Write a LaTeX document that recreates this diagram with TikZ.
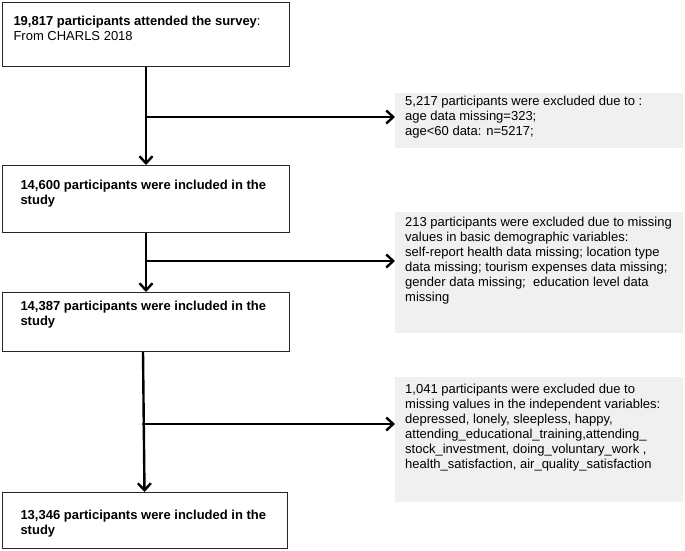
\documentclass[tikz,border=0pt]{standalone}
\usepackage{fontspec}
\setmainfont{Liberation Sans}
\usetikzlibrary{arrows.meta}
\definecolor{exclgray}{HTML}{F0F0F0}
\definecolor{boxline}{HTML}{262626}
\newcommand{\fbtext}[5]{\parbox[t][#2][t]{#1}{\vspace*{#4}\raggedright\leftskip=#3\relax #5}}
\tikzset{
  flowbox/.style={draw=boxline, line width=1pt, fill=white, inner sep=0pt, anchor=north west,
    font=\fontsize{13pt}{15pt}\selectfont},
  firstbox/.style={flowbox, font=\fontsize{13pt}{14.5pt}\selectfont},
  exclbox/.style={fill=exclgray, inner sep=0pt, anchor=north west,
    font=\fontsize{13pt}{15pt}\selectfont},
  flowarrow/.style={line width=2.4pt, -{Straight Barb[length=7pt,width=13pt]}},
  brancharrow/.style={flowarrow, line cap=round},
}
\begin{document}
\begin{tikzpicture}[x=1pt,y=-1pt]
\useasboundingbox (0,0) rectangle (685,550);
\fill[white] (0,0) rectangle (685,550);

\node[firstbox] (b1) at (2,2) {\fbtext{287pt}{64pt}{11pt}{14pt}{\textbf{19,817 participants attended the survey}:\\From CHARLS 2018}};
\node[flowbox] (b2) at (2,165) {\fbtext{287pt}{67pt}{18pt}{15pt}{\textbf{14,600 participants were included in the}\\\textbf{study}}};
\node[flowbox] (b3) at (2,292) {\fbtext{287pt}{59pt}{18pt}{9pt}{\textbf{14,387 participants were included in the}\\\textbf{study}}};
\node[flowbox] (b4) at (2,492) {\fbtext{285pt}{56pt}{18pt}{18pt}{\textbf{13,346 participants were included in the}\\\textbf{study}}};

\node[exclbox] (g1) at (395,93) {\fbtext{288pt}{55pt}{10pt}{3pt}{5,217 participants were excluded due to :\\age data missing=323;\\age<60 data: n=5217;}};
\node[exclbox] (g2) at (395,212) {\fbtext{288pt}{121pt}{10pt}{5pt}{213 participants were excluded due to missing\\values in basic demographic variables:\\self-report health data missing; location type\\data missing; tourism expenses data missing;\\gender data missing;\ \ education level data\\missing}};
\node[exclbox] (g3) at (395,377) {\fbtext{288pt}{125pt}{10pt}{7pt}{1,041 participants were excluded due to\\missing values in the independent variables:\\depressed, lonely, sleepless, happy,\\attending\_educational\_training,attending\_\\stock\_investment, doing\_voluntary\_work ,\\health\_satisfaction, air\_quality\_satisfaction}};

\coordinate (j1) at (146,117);
\coordinate (j2) at (146,261);
\coordinate (j3) at (143,424);

\draw[flowarrow] (b1.south) -- (b2.north);
\draw[flowarrow] (b2.south) -- (b3.north);
\draw[flowarrow] ([xshift=-3pt]b3.south) -- ([xshift=-0.5pt]b4.north);
\draw[brancharrow] (j1) -- (j1 -| g1.west);
\draw[brancharrow] (j2) -- (j2 -| g2.west);
\draw[brancharrow] (j3) -- (j3 -| g3.west);
\end{tikzpicture}
\end{document}
